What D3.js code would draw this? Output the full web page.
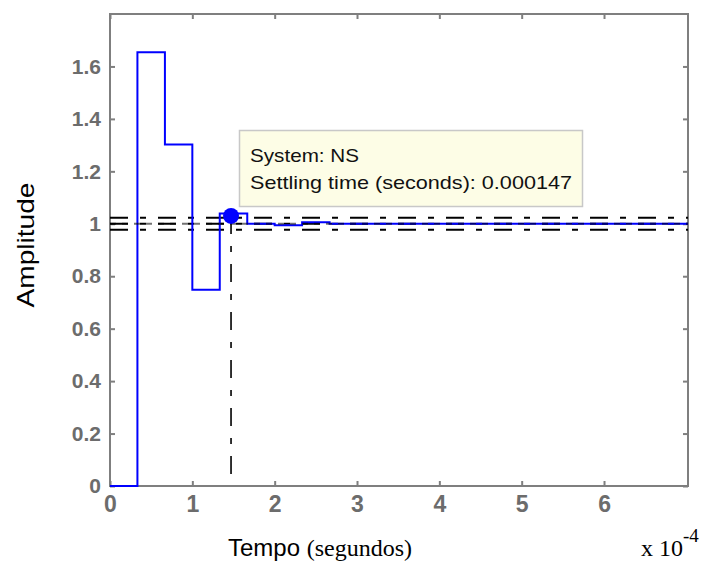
<!DOCTYPE html>
<html>
<head>
<meta charset="utf-8">
<script src="https://cdn.jsdelivr.net/npm/d3@7"></script>
<style>
  html, body { margin: 0; padding: 0; background: #ffffff; }
  svg { display: block; }
</style>
</head>
<body>
<svg id="chart" width="705" height="561"></svg>
<script>
// ---- data ----
const stepTimes  = [0, 0.0000333, 0.0000667, 0.0001, 0.0001333, 0.0001667, 0.0002, 0.0002333, 0.0002667, 0.000702];
const stepValues = [0, 1.654, 1.302, 0.748, 1.039, 1.0, 0.994, 1.006, 1.0, 1.0];
const settleBounds = [1.023, 0.977];
const finalValue = 1.0;
const settlingTime = 0.000147;
const settlingMarkerValue = 1.03;
const xTickValues = [0, 1, 2, 3, 4, 5, 6];          // x 10^-4 s
const yTickValues = [0, 0.2, 0.4, 0.6, 0.8, 1, 1.2, 1.4, 1.6];
const yTickLabels = ["0", "0.2", "0.4", "0.6", "0.8", "1", "1.2", "1.4", "1.6"];
const tipLines = ["System: NS", "Settling time (seconds): 0.000147"];
const xDomain = [0, 0.000702];
const yDomain = [0, 1.8];

// ---- layout ----
const L = 110, R = 688, T = 14, B = 486;
const svg = d3.select("#chart");
const x = d3.scaleLinear().domain(xDomain).range([L, R]);
const y = d3.scaleLinear().domain(yDomain).range([B, T]);

const axisColor = "#7f7f7f";
const tickColor = "#6c6c6c";
const dashDot = "18,12,6,12";

// box
svg.append("rect")
  .attr("x", L).attr("y", T).attr("width", R - L).attr("height", B - T)
  .attr("fill", "none").attr("stroke", axisColor).attr("stroke-width", 2);

// axes (ticks pointing inward)
const fmtX = d => d3.format("d")(Math.round(d / 1e-4));
const axB = svg.append("g").attr("transform", `translate(0,${B})`)
  .call(d3.axisBottom(x).tickValues(xTickValues.map(v => v * 1e-4)).tickFormat(fmtX).tickSize(-5).tickPadding(10));
const axT = svg.append("g").attr("transform", `translate(0,${T})`)
  .call(d3.axisTop(x).tickValues(xTickValues.map(v => v * 1e-4)).tickFormat("").tickSize(-5));
const axL = svg.append("g").attr("transform", `translate(${L},0)`)
  .call(d3.axisLeft(y).tickValues(yTickValues).tickFormat((d, i) => yTickLabels[i]).tickSize(-5).tickPadding(9));
const axR = svg.append("g").attr("transform", `translate(${R},0)`)
  .call(d3.axisRight(y).tickValues(yTickValues).tickFormat("").tickSize(-5));

[axB, axT, axL, axR].forEach(g => {
  g.select(".domain").remove();
  g.selectAll(".tick line").attr("stroke", axisColor).attr("stroke-width", 2);
});
axB.selectAll(".tick text")
  .attr("font-family", "'Liberation Sans Narrow', 'Liberation Sans', Arial, sans-serif")
  .attr("font-weight", "bold").attr("font-size", 23).attr("fill", tickColor);
axL.selectAll(".tick text")
  .attr("font-family", "'Liberation Sans', Arial, sans-serif")
  .attr("font-weight", "bold").attr("font-size", 21).attr("fill", tickColor);

// reference lines (settling bounds + final value)
settleBounds.concat([finalValue]).forEach(v => {
  svg.append("line")
    .attr("x1", x(xDomain[0])).attr("x2", x(xDomain[1]))
    .attr("y1", y(v)).attr("y2", y(v))
    .attr("stroke", "#000").attr("stroke-width", 2)
    .attr("stroke-dasharray", dashDot);
});

// step response
const line = d3.line()
  .x((d, i) => x(stepTimes[i]))
  .y(d => y(d))
  .curve(d3.curveStepAfter);
svg.append("path")
  .datum(stepValues)
  .attr("d", line)
  .attr("fill", "none")
  .attr("stroke", "#0000ff")
  .attr("stroke-width", 2);

// final value dashes over the blue line
svg.append("line")
  .attr("x1", x(xDomain[0])).attr("x2", x(xDomain[1]))
  .attr("y1", y(finalValue)).attr("y2", y(finalValue))
  .attr("stroke", "#000").attr("stroke-width", 2)
  .attr("stroke-dasharray", "6,6")
  .attr("opacity", 0.55);

// vertical settling-time line
svg.append("line")
  .attr("x1", x(settlingTime)).attr("x2", x(settlingTime))
  .attr("y1", y(settlingMarkerValue)).attr("y2", y(0))
  .attr("stroke", "#000").attr("stroke-width", 1.6)
  .attr("stroke-dasharray", dashDot);

// marker
svg.append("circle")
  .attr("cx", x(settlingTime)).attr("cy", y(settlingMarkerValue))
  .attr("r", 8).attr("fill", "#0000ff");

// data tip
const tip = svg.append("g");
tip.append("rect")
  .attr("x", 239.5).attr("y", 130.5).attr("width", 343).attr("height", 76)
  .attr("fill", "#fdfde6").attr("stroke", "#c8c8c8").attr("stroke-width", 1.5);
tip.append("text").attr("x", 250).attr("y", 162)
  .attr("font-family", "'Liberation Sans', Arial, sans-serif").attr("font-size", 19).attr("fill", "#111")
  .attr("textLength", 109).attr("lengthAdjust", "spacingAndGlyphs")
  .text(tipLines[0]);
tip.append("text").attr("x", 250).attr("y", 189)
  .attr("font-family", "'Liberation Sans', Arial, sans-serif").attr("font-size", 19).attr("fill", "#111")
  .attr("textLength", 322).attr("lengthAdjust", "spacingAndGlyphs")
  .text(tipLines[1]);

// axis titles
svg.append("text")
  .attr("transform", "translate(34,245) rotate(-90)")
  .attr("text-anchor", "middle")
  .attr("font-family", "'Liberation Sans', Arial, sans-serif").attr("font-size", 24).attr("fill", "#000")
  .attr("textLength", 125).attr("lengthAdjust", "spacingAndGlyphs")
  .text("Amplitude");

const xt = svg.append("text").attr("x", 228).attr("y", 556)
  .attr("fill", "#000");
xt.append("tspan")
  .attr("font-family", "'Liberation Sans', Arial, sans-serif").attr("font-size", 24)
  .text("Tempo ");
xt.append("tspan")
  .attr("font-family", "'Liberation Serif', 'Times New Roman', serif").attr("font-size", 24)
  .text("(segundos)");

const ex = svg.append("text").attr("x", 641).attr("y", 556)
  .attr("font-family", "'Liberation Serif', 'Times New Roman', serif").attr("font-size", 24).attr("fill", "#000");
ex.append("tspan").text("x 10");
ex.append("tspan").attr("dy", -14).attr("font-size", 19).text("-4");
</script>
</body>
</html>
